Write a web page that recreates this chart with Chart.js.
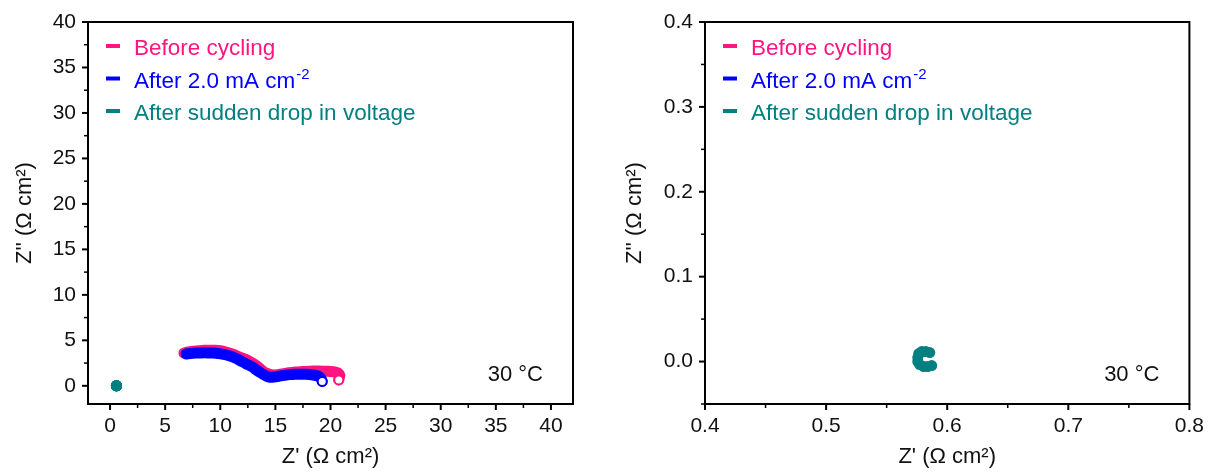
<!DOCTYPE html>
<html>
<head>
<meta charset="utf-8">
<script src="https://cdn.jsdelivr.net/npm/chart.js@4"></script>
<style>
  body { margin: 0; background: #fff; width: 1208px; height: 473px; overflow: hidden; position: relative; }
  canvas { position: absolute; top: 0; }
  #left { left: 0; }
  #right { left: 604px; }
</style>
</head>
<body>
<canvas id="left" width="604" height="473"></canvas>
<canvas id="right" width="604" height="473"></canvas>
<script>
// legend names (superscript part kept apart)
var seriesNames = ["Before cycling", "After 2.0 mA cm", "After sudden drop in voltage"];
var seriesSup = ["", "-2", ""];
var seriesColors = ["#FF1480", "#0000FF", "#008080"];

// Before cycling
var beforeX = [6.7, 7.0, 7.5, 8.0, 8.5, 9.0, 9.5, 10.0, 10.5, 11.0, 11.5, 12.0, 12.5, 13.0, 13.5, 14.0, 14.4, 14.8, 15.2, 15.6, 16.0, 16.5, 17.0, 17.5, 18.0, 18.5, 19.0, 19.5, 20.0, 20.4, 20.7, 20.85, 20.8, 20.75];
var beforeY = [3.6, 3.7, 3.8, 3.85, 3.9, 3.9, 3.9, 3.85, 3.72, 3.52, 3.3, 3.05, 2.8, 2.45, 2.0, 1.5, 1.3, 1.2, 1.22, 1.3, 1.4, 1.48, 1.53, 1.57, 1.6, 1.62, 1.62, 1.6, 1.58, 1.52, 1.4, 1.15, 0.9, 0.65];

// After 2.0 mA cm-2
var afterX = [6.9, 7.3, 7.8, 8.3, 8.8, 9.3, 9.8, 10.3, 10.8, 11.3, 11.8, 12.3, 12.9, 13.3, 13.85, 14.2, 14.5, 14.9, 15.3, 15.8, 16.3, 16.8, 17.3, 17.8, 18.3, 18.7, 19.0, 19.15, 19.25];
var afterY = [3.5, 3.56, 3.6, 3.62, 3.62, 3.6, 3.55, 3.45, 3.3, 3.08, 2.78, 2.45, 2.08, 1.72, 1.3, 1.05, 0.95, 0.97, 1.05, 1.15, 1.23, 1.27, 1.28, 1.26, 1.2, 1.12, 0.98, 0.77, 0.48];

// After sudden drop in voltage
var dropX = [0.5856, 0.5823, 0.5790, 0.5765, 0.5757, 0.5757, 0.5773, 0.5806, 0.5839, 0.5872];
var dropY = [0.0106, 0.0118, 0.0118, 0.0094, 0.0047, 0.0000, -0.0035, -0.0059, -0.0059, -0.0047];

// ticks
var leftTicks = [0, 2.5, 5, 7.5, 10, 12.5, 15, 17.5, 20, 22.5, 25, 27.5, 30, 32.5, 35, 37.5, 40];
var rightXTicks = [0.4, 0.45, 0.5, 0.55, 0.6, 0.65, 0.7, 0.75, 0.8];
var rightYTicks = [-0.05, 0, 0.05, 0.1, 0.15, 0.2, 0.25, 0.3, 0.35, 0.4];

var xTitle = "Z' (\u03A9 cm\u00B2)";
var yTitle = "Z'' (\u03A9 cm\u00B2)";
var tempLabel = "30 \u00B0C";

var FONT = '"Liberation Sans", Arial, sans-serif';

function pts(xs, ys) {
  return xs.map(function (x, i) { return { x: x, y: ys[i] }; });
}

function curveSet(xs, ys, color, order) {
  var last = xs.length - 1;
  return {
    data: pts(xs, ys),
    showLine: true,
    borderColor: color,
    borderWidth: 11,
    borderCapStyle: 'round',
    borderJoinStyle: 'round',
    tension: 0.4,
    pointRadius: function (c) { return c.dataIndex === last ? 4.5 : 0; },
    pointBackgroundColor: '#fff',
    pointBorderColor: color,
    pointBorderWidth: 2,
    order: order
  };
}

function dotSet(xs, ys, color) {
  return {
    data: pts(xs, ys),
    showLine: false,
    pointRadius: 5.5,
    pointBackgroundColor: color,
    pointBorderWidth: 0,
    order: 0
  };
}

function isMajor(v, step) {
  var r = v / step;
  return Math.abs(r - Math.round(r)) < 1e-6;
}

// frame, tick marks, legend and temperature note
var decor = {
  id: 'decor',
  afterDatasetsDraw: function (chart) {
    var ctx = chart.ctx, a = chart.chartArea;
    var xs = chart.scales.x, ys = chart.scales.y;
    var majX = chart.options.plugins.decor.majX, majY = chart.options.plugins.decor.majY;
    ctx.save();
    ctx.strokeStyle = '#000';
    ctx.lineWidth = 2;
    ctx.strokeRect(a.left, a.top, a.right - a.left, a.bottom - a.top);
    xs.ticks.forEach(function (t) {
      var p = xs.getPixelForValue(t.value);
      var major = isMajor(t.value, majX);
      ctx.lineWidth = major ? 2 : 1.5;
      ctx.beginPath();
      ctx.moveTo(p, a.bottom);
      ctx.lineTo(p, a.bottom + (major ? 6 : 4));
      ctx.stroke();
    });
    ys.ticks.forEach(function (t) {
      var p = ys.getPixelForValue(t.value);
      var major = isMajor(t.value, majY);
      ctx.lineWidth = major ? 2 : 1.5;
      ctx.beginPath();
      ctx.moveTo(a.left, p);
      ctx.lineTo(a.left - (major ? 6 : 4), p);
      ctx.stroke();
    });

    // legend
    ctx.textBaseline = 'alphabetic';
    ctx.textAlign = 'left';
    for (var i = 0; i < seriesNames.length; i++) {
      var base = a.top + 33 + i * 32.5;
      ctx.fillStyle = seriesColors[i];
      ctx.fillRect(a.left + 18, base - 11, 14, 4);
      ctx.font = '22.5px ' + FONT;
      ctx.fillText(seriesNames[i], a.left + 46, base);
      if (seriesSup[i]) {
        var w = ctx.measureText(seriesNames[i]).width;
        ctx.font = '15px ' + FONT;
        ctx.fillText(seriesSup[i], a.left + 46 + w + 1, base - 9);
      }
    }

    ctx.fillStyle = '#111';
    ctx.font = '22px ' + FONT;
    ctx.textAlign = 'right';
    ctx.fillText(tempLabel, a.right - 30, a.bottom - 23);
    ctx.restore();
  }
};

function makeChart(id, cfg) {
  return new Chart(document.getElementById(id), {
    type: 'scatter',
    data: {
      datasets: [
        curveSet(beforeX, beforeY, seriesColors[0], 2),
        curveSet(afterX, afterY, seriesColors[1], 1),
        dotSet(dropX, dropY, seriesColors[2])
      ]
    },
    options: {
      responsive: false,
      animation: false,
      layout: { padding: { top: 22, right: cfg.padRight, left: 0, bottom: 0 } },
      plugins: {
        legend: { display: false },
        tooltip: { enabled: false },
        decor: { majX: cfg.majX, majY: cfg.majY }
      },
      scales: {
        x: {
          type: 'linear',
          min: cfg.xMin, max: cfg.xMax,
          afterBuildTicks: function (s) { s.ticks = cfg.xTicks.map(function (v) { return { value: v }; }); },
          afterFit: function (s) { s.height = 69; },
          grid: { display: false, drawTicks: true, tickLength: 6 },
          border: { display: false },
          ticks: {
            autoSkip: false, maxRotation: 0, padding: 4, color: '#111',
            font: { family: FONT, size: 21 },
            callback: function (v) { return isMajor(v, cfg.majX) ? cfg.fmt(v) : ''; }
          },
          title: { display: true, text: xTitle, color: '#111', font: { family: FONT, size: 22 }, padding: { top: 0, bottom: 3 } }
        },
        y: {
          type: 'linear',
          min: cfg.yMin, max: cfg.yMax,
          afterBuildTicks: function (s) { s.ticks = cfg.yTicks.map(function (v) { return { value: v }; }); },
          afterFit: function (s) { s.width = cfg.yWidth; },
          grid: { display: false, drawTicks: true, tickLength: 6 },
          border: { display: false },
          ticks: {
            autoSkip: false, padding: 6, color: '#111',
            font: { family: FONT, size: 21 },
            callback: function (v) { return isMajor(v, cfg.majY) ? cfg.fmt(v) : ''; }
          },
          title: { display: true, text: yTitle, color: '#111', font: { family: FONT, size: 22 }, padding: { top: cfg.yTitlePad, bottom: 0 } }
        }
      }
    },
    plugins: [decor]
  });
}

makeChart('left', {
  xMin: -2, xMax: 42, yMin: -2, yMax: 40,
  xTicks: leftTicks, yTicks: leftTicks, majX: 5, majY: 5,
  fmt: function (v) { return String(Math.round(v)); },
  padRight: 31, yWidth: 88, yTitlePad: 12
});

makeChart('right', {
  xMin: 0.4, xMax: 0.8, yMin: -0.05, yMax: 0.4,
  xTicks: rightXTicks, yTicks: rightYTicks, majX: 0.1, majY: 0.1,
  fmt: function (v) { return v.toFixed(1); },
  padRight: 18, yWidth: 101, yTitlePad: 18
});
</script>
</body>
</html>
